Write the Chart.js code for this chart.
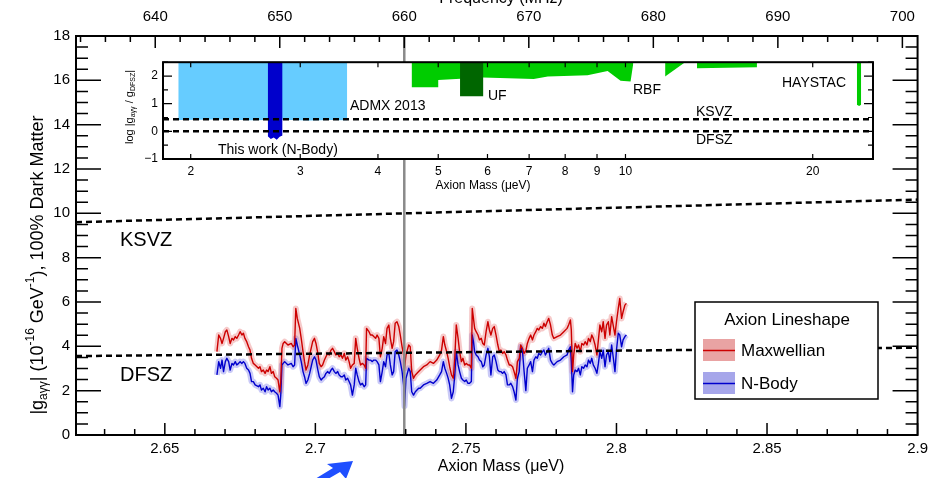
<!DOCTYPE html>
<html>
<head>
<meta charset="utf-8">
<script src="https://cdn.jsdelivr.net/npm/chart.js@4.4.1/dist/chart.umd.min.js"></script>
<style>
html, body { margin: 0; padding: 0; background: #fff; }
#wrap { position: relative; width: 933px; height: 478px; overflow: hidden; }
#mainChart { position: absolute; left: 0; top: 0; }
#insetChart { position: absolute; left: 100px; top: 50px; }
</style>
</head>
<body>
<div id="wrap">
<canvas id="mainChart" width="933" height="478"></canvas>
<canvas id="insetChart" width="790" height="150"></canvas>
</div>
<script>
const FONT = "'Liberation Sans', Arial, Helvetica, sans-serif";
const MHZ_PER_UEV = 241.8;

// Main plot axes
const massMin = 2.6205;
const massMax = 2.9;
const massTicks = [2.65, 2.7, 2.75, 2.8, 2.85, 2.9];
const freqTicks = [640, 650, 660, 670, 680, 690, 700];
const gTicks = [0, 2, 4, 6, 8, 10, 12, 14, 16, 18];

// Model lines (|g| in 1e-16 GeV^-1)
const ksvzMass = [2.6205, 2.9];
const ksvzG = [9.6, 10.62];
const dfszMass = [2.6205, 2.9];
const dfszG = [3.56, 3.94];
const markerMHz = 660;

// Limits
const massUeV = [
  2.6673, 2.6679, 2.6685, 2.6690, 2.6695, 2.6701, 2.6706, 2.6712, 2.6717, 2.6723,
  2.6728, 2.6734, 2.6739, 2.6745, 2.6750, 2.6756, 2.6761, 2.6766, 2.6772, 2.6778,
  2.6783, 2.6788, 2.6794, 2.6800, 2.6811, 2.6816, 2.6821, 2.6827, 2.6833, 2.6838,
  2.6843, 2.6849, 2.6854, 2.6860, 2.6865, 2.6871, 2.6876, 2.6882, 2.6885, 2.6889,
  2.6893, 2.6898, 2.6909, 2.6920, 2.6926, 2.6931, 2.6935, 2.6940, 2.6948, 2.6953,
  2.6959, 2.6964, 2.6969, 2.6975, 2.6981, 2.6986, 2.6991, 2.6997, 2.7002, 2.7008,
  2.7013, 2.7019, 2.7024, 2.7030, 2.7035, 2.7041, 2.7046, 2.7052, 2.7057, 2.7063,
  2.7068, 2.7074, 2.7079, 2.7085, 2.7090, 2.7096, 2.7101, 2.7107, 2.7112, 2.7117,
  2.7123, 2.7129, 2.7134, 2.7139, 2.7145, 2.7150, 2.7156, 2.7162, 2.7167, 2.7170,
  2.7178, 2.7183, 2.7189, 2.7194, 2.7200, 2.7205, 2.7211, 2.7216, 2.7222, 2.7227,
  2.7233, 2.7238, 2.7244, 2.7249, 2.7255, 2.7260, 2.7265, 2.7271, 2.7277, 2.7282,
  2.7288, 2.7293, 2.7296, 2.7301, 2.7310, 2.7315, 2.7320, 2.7326, 2.7332, 2.7343,
  2.7348, 2.7359, 2.7370, 2.7381, 2.7392, 2.7403, 2.7413, 2.7419, 2.7425, 2.7430,
  2.7436, 2.7441, 2.7446, 2.7452, 2.7458, 2.7463, 2.7468, 2.7474, 2.7479, 2.7485,
  2.7490, 2.7496, 2.7501, 2.7507, 2.7512, 2.7518, 2.7521, 2.7525, 2.7529, 2.7534,
  2.7540, 2.7545, 2.7551, 2.7556, 2.7561, 2.7567, 2.7573, 2.7578, 2.7583, 2.7589,
  2.7594, 2.7600, 2.7606, 2.7611, 2.7616, 2.7622, 2.7627, 2.7633, 2.7638, 2.7644,
  2.7649, 2.7655, 2.7660, 2.7666, 2.7671, 2.7677, 2.7682, 2.7688, 2.7693, 2.7699,
  2.7704, 2.7710, 2.7715, 2.7721, 2.7726, 2.7732, 2.7737, 2.7742, 2.7748, 2.7754,
  2.7759, 2.7764, 2.7770, 2.7775, 2.7781, 2.7787, 2.7792, 2.7803, 2.7814, 2.7825,
  2.7836, 2.7841, 2.7847, 2.7850, 2.7854, 2.7858, 2.7863, 2.7869, 2.7874, 2.7880,
  2.7885, 2.7891, 2.7896, 2.7902, 2.7907, 2.7913, 2.7918, 2.7923, 2.7929, 2.7935,
  2.7940, 2.7945, 2.7951, 2.7956, 2.7962, 2.7967, 2.7973, 2.7978, 2.7984, 2.7989,
  2.7995, 2.8000, 2.8006, 2.8011, 2.8017, 2.8022, 2.8028, 2.8033
];
const maxwellG = [
  3.76, 4.51, 4.36, 4.13, 4.36, 4.66, 4.74, 4.44, 4.13, 4.36,
  4.29, 4.44, 4.36, 4.51, 4.66, 4.51, 4.59, 4.36, 4.21, 3.98,
  3.83, 3.46, 3.23, 3.16, 3.01, 3.08, 2.86, 2.93, 2.78, 2.93,
  2.86, 3.08, 2.78, 2.86, 2.63, 2.56, 2.48, 1.95, 2.41, 3.91,
  4.13, 4.21, 4.06, 4.13, 3.98, 4.06, 5.71, 5.26, 4.81, 4.36,
  3.76, 3.31, 2.93, 3.16, 3.61, 3.91, 4.21, 4.36, 4.13, 3.70,
  3.23, 3.08, 3.16, 3.38, 3.53, 3.68, 3.61, 3.83, 3.91, 3.76,
  3.61, 3.68, 3.53, 3.61, 3.46, 3.68, 3.38, 3.53, 3.31, 3.01,
  3.16, 3.23, 4.36, 3.91, 3.46, 3.16, 3.23, 3.16, 3.01, 4.81,
  4.66, 4.51, 4.51, 4.44, 4.36, 4.51, 4.36, 3.53, 3.91, 4.44,
  4.13, 4.81, 4.96, 4.36, 3.91, 4.21, 5.04, 5.11, 4.89, 4.51,
  3.98, 3.61, 3.00, 3.61, 4.06, 3.98, 2.86, 2.56, 2.71, 2.86,
  2.93, 3.08, 3.16, 3.31, 3.23, 3.38, 3.61, 3.83, 4.44, 4.06,
  3.76, 3.46, 3.08, 2.71, 2.56, 3.46, 4.96, 4.36, 3.76, 3.31,
  3.46, 3.16, 3.23, 3.16, 3.16, 3.01, 5.71, 5.26, 4.81, 4.66,
  4.51, 4.29, 4.36, 4.13, 4.06, 4.66, 5.11, 4.74, 4.51, 4.81,
  4.89, 4.51, 4.06, 3.76, 3.83, 3.68, 3.76, 3.61, 3.38, 3.16,
  3.16, 3.08, 2.86, 2.56, 3.31, 3.46, 4.06, 3.91, 3.68, 3.80,
  4.13, 4.36, 4.51, 4.29, 4.51, 4.66, 4.81, 4.74, 4.89, 4.81,
  5.04, 4.89, 5.11, 5.26, 4.96, 4.51, 4.36, 4.44, 4.51, 4.66,
  4.81, 4.96, 5.19, 4.74, 2.86, 3.61, 4.13, 3.91, 4.06, 3.76,
  4.13, 4.06, 4.21, 4.06, 4.36, 4.21, 4.51, 4.36, 4.06, 3.61,
  4.29, 4.96, 4.66, 5.11, 4.36, 4.96, 5.11, 4.51, 5.34, 4.96,
  4.51, 5.11, 5.71, 6.16, 5.26, 5.56, 5.86, 5.94
];
const nbodyG = [
  2.71, 3.31, 3.01, 3.38, 2.86, 3.31, 3.46, 3.31, 2.93, 3.23,
  3.16, 3.31, 3.16, 3.23, 3.31, 3.23, 3.31, 3.23, 3.01, 2.93,
  2.78, 2.41, 2.41, 2.26, 2.18, 2.26, 2.03, 2.11, 1.95, 2.18,
  2.03, 2.11, 1.95, 2.03, 1.95, 1.88, 1.80, 1.28, 1.80, 3.16,
  3.23, 3.31, 3.16, 3.23, 3.08, 3.16, 4.36, 4.06, 3.61, 3.31,
  2.86, 2.63, 2.33, 2.48, 2.78, 3.08, 3.38, 3.53, 3.38, 2.95,
  2.63, 2.48, 2.56, 2.63, 2.78, 2.86, 2.78, 2.93, 3.01, 2.86,
  2.78, 2.86, 2.71, 2.63, 2.63, 2.71, 2.48, 2.56, 2.41, 2.26,
  1.80, 2.26, 3.01, 2.71, 2.41, 2.26, 2.33, 2.18, 2.26, 3.46,
  3.38, 3.38, 3.31, 3.38, 3.38, 3.31, 3.16, 2.41, 2.86, 3.31,
  3.08, 3.61, 3.68, 3.16, 2.71, 2.86, 3.76, 3.83, 3.61, 3.31,
  2.86, 2.26, 1.30, 2.56, 3.01, 2.86, 1.95, 1.80, 1.95, 2.11,
  2.11, 2.26, 2.33, 2.41, 2.33, 2.48, 2.71, 2.86, 3.31, 3.01,
  2.78, 2.56, 2.26, 1.65, 1.95, 2.71, 3.76, 3.16, 2.86, 2.56,
  2.48, 2.41, 2.48, 2.33, 2.33, 2.41, 4.51, 4.21, 3.76, 3.61,
  3.53, 3.38, 3.31, 3.08, 3.16, 3.61, 3.91, 3.53, 2.71, 3.53,
  3.61, 3.31, 2.93, 2.86, 2.86, 2.78, 2.86, 2.71, 2.26, 2.26,
  2.33, 2.18, 1.95, 1.58, 2.56, 2.86, 3.98, 3.76, 2.90, 2.00,
  3.01, 3.16, 3.31, 2.86, 3.38, 3.53, 3.46, 3.68, 3.61, 3.76,
  3.83, 3.61, 3.76, 3.91, 3.38, 3.23, 3.16, 3.31, 3.38, 3.53,
  3.61, 3.83, 3.98, 3.31, 1.95, 2.71, 2.93, 2.86, 3.01, 2.71,
  3.08, 3.01, 3.16, 3.08, 3.38, 3.23, 3.46, 3.16, 3.01, 2.78,
  3.23, 3.76, 3.46, 3.83, 3.08, 3.61, 3.76, 3.31, 4.06, 3.53,
  2.86, 3.83, 4.59, 4.51, 3.98, 4.29, 4.44, 4.51
];

// Inset: log10(|g| / g_DFSZ) versus axion mass
const insetMassMin = 1.805;
const insetMassMax = 25;
const insetMassTicks = [2, 3, 4, 5, 6, 7, 8, 9, 10, 20];
const insetLogTicks = [-1, 0, 1, 2];
const admxMass = [1.91, 2.2, 2.5, 2.8, 3.1, 3.35, 3.57];
const admxLog = [0.41, 0.43, 0.40, 0.42, 0.39, 0.41, 0.40];
const thisWorkMass = [2.66, 2.69, 2.72, 2.75, 2.78, 2.81];
const thisWorkLog = [-0.18, -0.28, -0.22, -0.30, -0.20, -0.15];
const rbfAMass = [4.53, 5.0, 5.0, 5.9, 7.12, 7.5, 8.69, 9.36, 9.82, 10.19, 10.3];
const rbfALog = [1.59, 1.59, 1.86, 1.95, 1.89, 1.98, 2.03, 2.18, 1.83, 1.80, 2.5];
const ufMass = [5.42, 5.91];
const ufLog = [1.27, 1.27];
const rbfBMass = [11.58, 12.47];
const rbfBLog = [1.98, 2.5];
const rbfCMass = [13.03, 16.27];
const rbfCLog = [2.28, 2.32];
const haystacMass = [23.55, 23.75, 23.93];
const haystacLog = [0.96, 0.92, 0.96];
const insetKsvzLog = 0.44;
const insetDfszLog = 0;

function pts(xs, ys) {
  return xs.map((x, i) => ({ x: x, y: ys[i] }));
}

// text with sub (1) / superscript (2) parts, centred on (x, y)
function drawRich(ctx, parts, x, y, size, rotate) {
  ctx.save();
  ctx.translate(x, y);
  if (rotate) ctx.rotate(-Math.PI / 2);
  const small = Math.round(size * 0.68);
  let total = 0;
  parts.forEach(([t, m]) => {
    ctx.font = (m ? small : size) + 'px ' + FONT;
    total += ctx.measureText(t).width;
  });
  let cx = -total / 2;
  ctx.textBaseline = 'middle';
  ctx.textAlign = 'left';
  ctx.fillStyle = '#000';
  parts.forEach(([t, m]) => {
    ctx.font = (m ? small : size) + 'px ' + FONT;
    const dy = m === 1 ? size * 0.32 : (m === 2 ? -size * 0.4 : 0);
    ctx.fillText(t, cx, dy);
    cx += ctx.measureText(t).width;
  });
  ctx.restore();
}

function text(ctx, s, x, y, size, align) {
  ctx.font = size + 'px ' + FONT;
  ctx.fillStyle = '#000';
  ctx.textAlign = align || 'left';
  ctx.textBaseline = 'middle';
  ctx.fillText(s, x, y);
}

const mainDecor = {
  id: 'mainDecor',
  beforeDraw(chart) {
    const ctx = chart.ctx;
    ctx.save();
    ctx.fillStyle = '#fff';
    ctx.fillRect(0, 0, chart.width, chart.height);
    ctx.restore();
  },
  afterDatasetsDraw(chart) {
    const ctx = chart.ctx;
    ctx.save();
    text(ctx, 'KSVZ', 120, 240, 20);
    text(ctx, 'DFSZ', 120, 375, 20);

    // legend
    ctx.fillStyle = '#fff';
    ctx.fillRect(695, 302, 183, 97);
    ctx.strokeStyle = '#000';
    ctx.lineWidth = 1.5;
    ctx.strokeRect(695, 302, 183, 97);
    text(ctx, 'Axion Lineshape', 787, 320, 17, 'center');
    ctx.fillStyle = '#e9a3a3';
    ctx.fillRect(703, 339, 32, 22);
    ctx.fillStyle = '#a6a6ea';
    ctx.fillRect(703, 372, 32, 22);
    ctx.lineWidth = 1.5;
    ctx.strokeStyle = '#cc0000';
    ctx.beginPath(); ctx.moveTo(703, 350.5); ctx.lineTo(735, 350.5); ctx.stroke();
    ctx.strokeStyle = '#0000cc';
    ctx.beginPath(); ctx.moveTo(703, 383.5); ctx.lineTo(735, 383.5); ctx.stroke();
    text(ctx, 'Maxwellian', 741, 351, 17);
    text(ctx, 'N-Body', 741, 384, 17);
    ctx.restore();
  },
  afterDraw(chart) {
    const { ctx, chartArea: a, scales } = chart;
    const x = scales.x, xTop = scales.xTop, y = scales.y;
    ctx.save();
    ctx.strokeStyle = '#000';
    ctx.lineWidth = 1.5;
    ctx.beginPath();
    for (let k = 263; k <= 290; k++) {
      const px = x.getPixelForValue(k / 100);
      const len = k % 5 === 0 ? 12 : 6;
      ctx.moveTo(px, a.bottom); ctx.lineTo(px, a.bottom - len);
    }
    for (let f = 634; f <= 700; f += 2) {
      const px = xTop.getPixelForValue(f);
      const len = f % 10 === 0 ? 12 : 6;
      ctx.moveTo(px, a.top); ctx.lineTo(px, a.top + len);
    }
    for (let h = 0; h <= 36; h++) {
      const py = y.getPixelForValue(h / 2);
      const len = h % 4 === 0 ? 25 : 12;
      ctx.moveTo(a.left, py); ctx.lineTo(a.left + len, py);
      ctx.moveTo(a.right, py); ctx.lineTo(a.right - len, py);
    }
    ctx.stroke();
    ctx.lineWidth = 2;
    ctx.strokeRect(a.left, a.top, a.right - a.left, a.bottom - a.top);

    // axis titles
    text(ctx, 'Axion Mass (\u03bceV)', 501, 467, 16, 'center');
    ctx.font = '16px ' + FONT;
    ctx.textAlign = 'center';
    ctx.textBaseline = 'alphabetic';
    ctx.fillText('Frequency (MHz)', 501, 3);
    drawRich(ctx, [['|g', 0], ['a\u03b3\u03b3', 1], ['| (10', 0], ['-16', 2], [' GeV', 0], ['-1', 2], ['), 100% Dark Matter', 0]], 38, 265, 18, true);

    // blue arrow at the bottom edge
    ctx.fillStyle = '#1f4fff';
    ctx.beginPath();
    ctx.moveTo(353, 461); ctx.lineTo(346, 479); ctx.lineTo(340, 472);
    ctx.lineTo(328, 479); ctx.lineTo(315, 479); ctx.lineTo(333, 468);
    ctx.lineTo(327, 464);
    ctx.closePath();
    ctx.fill();
    ctx.restore();
  }
};

const markerMass = markerMHz / MHZ_PER_UEV;
const tickFont = { family: FONT, size: 15 };

new Chart(document.getElementById('mainChart'), {
  type: 'line',
  data: {
    datasets: [
      { label: 'marker', data: pts([markerMass, markerMass], [0, 18]), borderColor: '#8a8a8a', borderWidth: 2.5, order: 0 },
      { label: 'KSVZ', data: pts(ksvzMass, ksvzG), borderColor: '#000', borderWidth: 2.5, borderDash: [6, 4], order: 1 },
      { label: 'DFSZ', data: pts(dfszMass, dfszG), borderColor: '#000', borderWidth: 2.5, borderDash: [6, 4], order: 1 },
      { label: 'Maxwellian', data: pts(massUeV, maxwellG), borderColor: '#cc0000', borderWidth: 1.4, order: 2 },
      { label: 'N-Body', data: pts(massUeV, nbodyG), borderColor: '#0000cc', borderWidth: 1.4, order: 2 },
      { label: 'Maxwellian band', data: pts(massUeV, maxwellG), borderColor: 'rgba(225,80,80,0.3)', borderWidth: 6, order: 3 },
      { label: 'N-Body band', data: pts(massUeV, nbodyG), borderColor: 'rgba(80,80,230,0.3)', borderWidth: 6, order: 3 }
    ]
  },
  options: {
    responsive: false,
    animation: false,
    elements: { point: { radius: 0 }, line: { tension: 0, borderJoinStyle: 'round' } },
    layout: { padding: { left: 0, right: 11, top: 0, bottom: 0 } },
    plugins: { legend: { display: false }, tooltip: { enabled: false } },
    scales: {
      x: {
        type: 'linear', position: 'bottom', min: massMin, max: massMax,
        grid: { display: false, drawTicks: false }, border: { display: false },
        afterBuildTicks: s => { s.ticks = massTicks.map(v => ({ value: v })); },
        afterFit: s => { s.height = 43; },
        ticks: { autoSkip: false, maxRotation: 0, padding: 5, color: '#000', font: tickFont, callback: v => String(v) }
      },
      xTop: {
        type: 'linear', position: 'top', min: massMin * MHZ_PER_UEV, max: massMax * MHZ_PER_UEV,
        grid: { display: false, drawTicks: false }, border: { display: false },
        afterBuildTicks: s => { s.ticks = freqTicks.map(v => ({ value: v })); },
        afterFit: s => { s.height = 36; },
        ticks: { autoSkip: false, maxRotation: 0, padding: 10, color: '#000', font: tickFont, callback: v => String(v) }
      },
      y: {
        type: 'linear', position: 'left', min: 0, max: 18,
        grid: { display: false, drawTicks: false }, border: { display: false },
        afterBuildTicks: s => { s.ticks = gTicks.map(v => ({ value: v })); },
        afterFit: s => { s.width = 76; },
        ticks: { autoSkip: false, padding: 6, color: '#000', font: tickFont, callback: v => String(v) }
      }
    }
  },
  plugins: [mainDecor]
});

const insetDecor = {
  id: 'insetDecor',
  beforeDatasetsDraw(chart) {
    const { ctx, chartArea: a } = chart;
    ctx.save();
    ctx.fillStyle = '#fff';
    ctx.fillRect(a.left, a.top, a.right - a.left, a.bottom - a.top);
    ctx.restore();
  },
  afterDraw(chart) {
    const { ctx, chartArea: a, scales } = chart;
    const x = scales.x, y = scales.y;
    ctx.save();
    ctx.strokeStyle = '#000';
    ctx.lineWidth = 1.2;
    ctx.beginPath();
    insetMassTicks.forEach(m => {
      const px = x.getPixelForValue(m);
      ctx.moveTo(px, a.bottom); ctx.lineTo(px, a.bottom - 5);
      ctx.moveTo(px, a.top); ctx.lineTo(px, a.top + 5);
    });
    for (let h = -2; h <= 5; h++) {
      const py = y.getPixelForValue(h / 2);
      const len = h % 2 === 0 ? 9 : 5;
      ctx.moveTo(a.left, py); ctx.lineTo(a.left + len, py);
      ctx.moveTo(a.right, py); ctx.lineTo(a.right - len, py);
    }
    ctx.stroke();
    ctx.lineWidth = 2;
    ctx.strokeRect(a.left, a.top, a.right - a.left, a.bottom - a.top);

    text(ctx, 'ADMX 2013', 250, 56, 14);
    text(ctx, 'UF', 388, 46, 14);
    text(ctx, 'RBF', 533, 40, 14);
    text(ctx, 'HAYSTAC', 682, 33, 14);
    text(ctx, 'KSVZ', 596, 62, 14);
    text(ctx, 'DFSZ', 596, 90, 14);
    text(ctx, 'This work (N-Body)', 118, 100, 14);
    text(ctx, 'Axion Mass (\u03bceV)', 383, 136, 12, 'center');
    drawRich(ctx, [['log |g', 0], ['a\u03b3\u03b3', 1], [' / g', 0], ['DFSZ', 1], ['|', 0]], 30, 57, 11, true);
    ctx.restore();
  }
};

const insetTickFont = { family: FONT, size: 12 };

new Chart(document.getElementById('insetChart'), {
  type: 'line',
  data: {
    datasets: [
      { label: 'KSVZ', data: pts([insetMassMin, insetMassMax], [insetKsvzLog, insetKsvzLog]), borderColor: '#000', borderWidth: 2.5, borderDash: [6, 4], order: 0 },
      { label: 'DFSZ', data: pts([insetMassMin, insetMassMax], [insetDfszLog, insetDfszLog]), borderColor: '#000', borderWidth: 2.5, borderDash: [6, 4], order: 0 },
      { label: 'This work', data: pts(thisWorkMass, thisWorkLog), fill: 'end', backgroundColor: '#0000cc', borderWidth: 0, order: 1 },
      { label: 'UF', data: pts(ufMass, ufLog), fill: 'end', backgroundColor: '#006600', borderWidth: 0, order: 1 },
      { label: 'ADMX 2013', data: pts(admxMass, admxLog), fill: 'end', backgroundColor: '#66ccff', borderWidth: 0, order: 2 },
      { label: 'RBF a', data: pts(rbfAMass, rbfALog), fill: 'end', backgroundColor: '#00cc00', borderWidth: 0, order: 2 },
      { label: 'RBF b', data: pts(rbfBMass, rbfBLog), fill: 'end', backgroundColor: '#00cc00', borderWidth: 0, order: 2 },
      { label: 'RBF c', data: pts(rbfCMass, rbfCLog), fill: 'end', backgroundColor: '#00cc00', borderWidth: 0, order: 2 },
      { label: 'HAYSTAC', data: pts(haystacMass, haystacLog), fill: 'end', backgroundColor: '#00cc00', borderWidth: 0, order: 2 }
    ]
  },
  options: {
    responsive: false,
    animation: false,
    elements: { point: { radius: 0 }, line: { tension: 0 } },
    layout: { padding: { left: 0, right: 17, top: 11, bottom: 0 } },
    plugins: { legend: { display: false }, tooltip: { enabled: false } },
    scales: {
      x: {
        type: 'logarithmic', min: insetMassMin, max: insetMassMax,
        grid: { display: false, drawTicks: false }, border: { display: false },
        afterBuildTicks: s => { s.ticks = insetMassTicks.map(v => ({ value: v })); },
        afterFit: s => { s.height = 41; },
        ticks: { autoSkip: false, maxRotation: 0, padding: 5, color: '#000', font: insetTickFont, callback: v => String(v) }
      },
      y: {
        type: 'linear', min: -1, max: 2.5,
        grid: { display: false, drawTicks: false }, border: { display: false },
        afterBuildTicks: s => { s.ticks = insetLogTicks.map(v => ({ value: v })); },
        afterFit: s => { s.width = 63; },
        ticks: { autoSkip: false, padding: 5, color: '#000', font: insetTickFont, callback: v => (v < 0 ? '\u2212' + Math.abs(v) : String(v)) }
      }
    }
  },
  plugins: [insetDecor]
});
</script>
</body>
</html>
